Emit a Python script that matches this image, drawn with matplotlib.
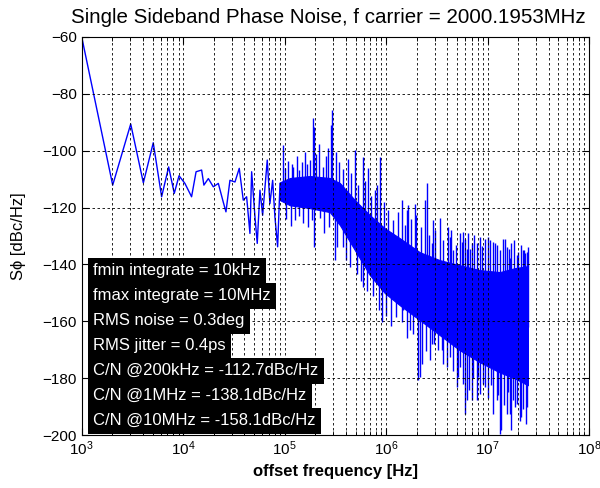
import matplotlib
matplotlib.use("Agg")
import matplotlib.pyplot as plt

plt.rcParams['font.family'] = ['Liberation Sans', 'DejaVu Sans']

# low offset part of the trace (Hz, dBc/Hz)
trace_f = [1000, 2020, 3040, 4050, 5070, 6130, 7190, 8170, 9100, 10400, 12100,
           13400, 15200, 16000, 17700, 19800, 22200, 24800, 26400, 28900, 32400,
           35700, 39100, 42200, 45500, 47300, 51000, 53700, 57100, 60700, 67400,
           71600, 76200, 80200, 85300, 90000]
trace_db = [-60, -112.1, -90.6, -111.3, -97.2, -116.2, -105.7, -115.0, -108.8,
            -111.5, -116.2, -107.4, -106.8, -112.1, -109.8, -112.7, -111.5,
            -118.0, -121.5, -110.4, -111.0, -106.2, -117.4, -116.2, -129.1,
            -107.4, -123.3, -132.6, -113.9, -122.7, -103.3, -118.6, -110.4,
            -123.3, -133.8, -111.5]

# dense noise band: upper and lower edge of the solid part
band_f = [9.0e4, 1.13e5, 1.77e5, 2.79e5, 3.51e5, 4.93e5, 6.93e5, 9.73e5, 1.37e6,
          2.15e6, 3.39e6, 5.33e6, 8.39e6, 1.32e7, 1.86e7, 2.5e7]
band_hi = [-111.1, -109.6, -108.9, -109.6, -111.4, -117.4, -122.7, -127.3, -130.8,
           -135.7, -138.5, -140.3, -142.0, -142.7, -141.3, -140.6]
band_lo = [-117.4, -119.2, -120.2, -121.6, -126.2, -135.0, -143.8, -150.1, -154.4,
           -159.6, -164.9, -170.2, -174.4, -178.0, -180.1, -182.5]

# big spikes sticking out of the band: frequency, bottom, top
spike_f = [95500, 117000, 139000, 165000, 189000, 195000, 240000, 284000, 290000,
           493000, 586000, 666000, 776000, 869000, 1.18e6, 1.42e6, 1.59e6, 1.65e6,
           1.92e6, 1.97e6, 2.41e6, 2.51e6, 2.81e6, 2.91e6, 3.39e6, 4.09e6, 4.25e6,
           4.58e6, 5.33e6, 5.55e6, 5.75e6, 6.21e6, 6.44e6, 6.70e6, 6.95e6, 7.80e6,
           8.39e6, 9.40e6, 1.05e7, 1.13e7, 1.18e7, 1.32e7, 1.41e7, 1.54e7, 1.66e7,
           1.72e7, 1.93e7, 2.00e7, 2.24e7, 2.28e7, 2.42e7,
           # downward ones
           126000, 152000, 195000, 223000, 313000, 378000, 512000, 594000, 903000,
           1.42e6, 1.47e6, 1.85e6, 2.07e6, 2.15e6, 2.24e6, 2.70e6, 2.81e6, 3.26e6,
           3.52e6, 3.65e6, 4.25e6, 4.95e6, 5.13e6, 5.75e6, 5.97e6, 6.21e6, 6.95e6,
           7.80e6, 8.07e6, 9.06e6, 9.40e6, 1.13e7, 1.23e7, 1.32e7, 1.37e7, 1.54e7,
           1.66e7, 1.72e7, 1.79e7, 1.86e7, 2.08e7, 2.16e7, 2.38e7]
spike_lo = [-115, -115, -115, -115, -116, -116, -116, -117, -117,
            -125, -130, -132, -135, -138, -142, -143, -144, -145,
            -146, -147, -149, -150, -150, -151, -152, -154, -155,
            -156, -157, -157, -157, -158, -158, -158, -159, -160,
            -160, -160, -160, -160, -160, -160, -161, -161, -161,
            -161, -162, -162, -162, -162, -162,
            -124.4, -125.6, -133.8, -123.8, -138.5, -133.8, -143.2, -147.9, -160.2,
            -160.2, -156.0, -164.3, -180.8, -179.6, -174.9, -173.7, -167.9, -170.2,
            -170.2, -174.9, -172.6, -183.1, -179.6, -181.9, -192.5, -187.8, -187.8,
            -187.8, -179.6, -181.9, -183.1, -192.5, -187.8, -199.5, -198.4, -192.5,
            -192.5, -198.4, -187.8, -190.2, -194.9, -193.7, -196.0]
spike_hi = [-98.0, -104.5, -106.8, -104.5, -88.6, -91.6, -105.7, -91.0, -85.7,
            -99.8, -102.1, -106.2, -113.9, -102.1, -124.4, -117.4, -120.9, -119.2,
            -118.6, -122.7, -117.4, -111.5, -132.6, -124.4, -123.8, -126.8, -130.3,
            -135.0, -129.1, -132.1, -128.6, -134.4, -129.1, -134.4, -132.6, -132.6,
            -130.3, -130.9, -131.5, -132.1, -132.6, -135.0, -130.9, -133.8, -137.9,
            -132.6, -136.8, -135.6, -135.0, -135.0, -135.6,
            -112, -112, -112, -112, -115, -118, -125, -128, -138,
            -142, -142, -145, -147, -148, -148, -150, -150, -151,
            -152, -152, -154, -156, -156, -157, -158, -158, -159,
            -159, -159, -160, -160, -160, -160, -160, -160, -161,
            -161, -161, -161, -161, -162, -162, -162]

# smaller spikes that make the band edges ragged
rag_f = [1.00e5, 1.08e5, 1.22e5, 1.31e5, 1.47e5, 1.58e5, 1.79e5, 2.05e5, 2.18e5,
         2.55e5, 2.68e5, 3.20e5, 3.40e5, 3.75e5, 4.20e5, 4.50e5, 5.30e5, 6.20e5,
         7.10e5, 8.20e5, 9.50e5, 1.05e6, 1.30e6, 1.52e6, 1.75e6, 2.20e6, 2.65e6,
         3.05e6, 3.60e6, 4.40e6, 4.85e6, 5.95e6, 7.35e6, 8.80e6, 1.00e7, 1.24e7,
         1.48e7, 1.62e7, 1.83e7, 2.12e7, 2.34e7, 2.48e7,
         1.04e5, 1.15e5, 1.38e5, 1.70e5, 1.87e5, 2.45e5, 2.75e5, 3.30e5, 4.00e5,
         4.40e5, 5.60e5, 6.50e5, 7.50e5, 8.50e5, 1.00e6, 1.12e6, 1.25e6, 1.60e6,
         1.72e6, 2.45e6, 2.95e6, 3.95e6, 4.60e6, 5.40e6, 6.60e6, 7.20e6, 8.50e6,
         1.02e7, 1.09e7, 1.26e7, 1.45e7, 1.60e7, 1.95e7, 2.25e7, 2.45e7]
rag_lo = [-114, -114, -114, -114, -114, -114, -114, -114, -114,
          -115, -115, -116, -118, -120, -122, -124, -127, -130,
          -132, -134, -137, -138, -141, -143, -144, -147, -148,
          -150, -152, -154, -155, -157, -159, -160, -160, -161,
          -161, -161, -162, -162, -162, -162,
          -124.0, -126.5, -123.0, -127.0, -124.5, -129.0, -127.0, -134.0, -138.5,
          -141.0, -146.0, -149.5, -151.0, -156.0, -158.0, -161.5, -158.5, -166.0,
          -163.0, -170.5, -168.0, -176.0, -177.5, -176.0, -184.0, -180.0, -185.5,
          -187.0, -182.5, -186.0, -189.5, -185.0, -189.0, -191.0, -190.0]
rag_hi = [-106.0, -103.5, -105.8, -101.9, -104.0, -100.5, -103.2, -101.0, -97.5,
          -102.0, -99.0, -100.5, -104.0, -106.5, -103.0, -108.0, -112.0, -110.5,
          -116.0, -112.0, -118.0, -121.0, -121.5, -126.0, -124.0, -127.0, -129.5,
          -128.0, -131.5, -128.0, -133.0, -131.0, -129.5, -133.5, -130.5, -133.0,
          -131.0, -134.5, -131.5, -133.0, -136.0, -134.0,
          -114, -114, -114, -114, -114, -115, -116, -118, -122,
          -124, -128, -131, -134, -136, -138, -140, -141, -144,
          -145, -149, -150, -153, -155, -156, -158, -158, -160,
          -160, -160, -160, -161, -161, -162, -162, -162]

info_lines = ["fmin integrate = 10kHz", "fmax integrate = 10MHz",
              "RMS noise = 0.3deg", "RMS jitter = 0.4ps",
              "C/N @200kHz = -112.7dBc/Hz", "C/N @1MHz = -138.1dBc/Hz",
              "C/N @10MHz = -158.1dBc/Hz"]

blue = (0, 0, 1)

fig = plt.figure(figsize=(6, 4.88), dpi=100)
ax = fig.add_axes([0.1362, 0.1086, 0.8455, 0.8156])

ax.plot(trace_f, trace_db, color=blue, lw=1.0)
ax.fill_between(band_f, band_lo, band_hi, color=blue, lw=0.8, edgecolor=blue)
ax.vlines(spike_f, spike_lo, spike_hi, color=blue, lw=1.0)
ax.vlines(rag_f, rag_lo, rag_hi, color=blue, lw=1.0)

ax.set_xscale('log')
ax.set_xlim(1e3, 1e8)
ax.set_ylim(-200, -60)
ax.set_yticks(range(-200, -59, 20))
ax.set_axisbelow(False)

dash = (0, (3, 3))
ax.grid(True, which='major', axis='both', color='k', ls=dash, lw=0.6)
ax.grid(True, which='minor', axis='x', color='k', ls=dash, lw=0.6)
ax.tick_params(which='both', direction='in', top=True, right=True, labelsize=11)
ax.tick_params(which='major', length=5)
ax.tick_params(which='minor', length=3)
for s in ax.spines.values():
    s.set_linewidth(0.8)

ax.set_title("Single Sideband Phase Noise, f carrier = 2000.1953MHz",
             fontsize=14.8, pad=10, x=0.486)
ax.set_xlabel("offset frequency [Hz]", fontsize=12, fontweight='bold')
ax.set_ylabel("S\u03d5 [dBc/Hz]", fontsize=12, labelpad=12)

for i, line in enumerate(info_lines):
    y = (435 - (270.8 + 25 * i)) / 398.0
    ax.text(0.0223, y, line, transform=ax.transAxes, color='w', fontsize=12,
            va='center', ha='left',
            bbox=dict(boxstyle='square,pad=0.33', fc='k', ec='none'))

fig.savefig("out.png", dpi=100)
